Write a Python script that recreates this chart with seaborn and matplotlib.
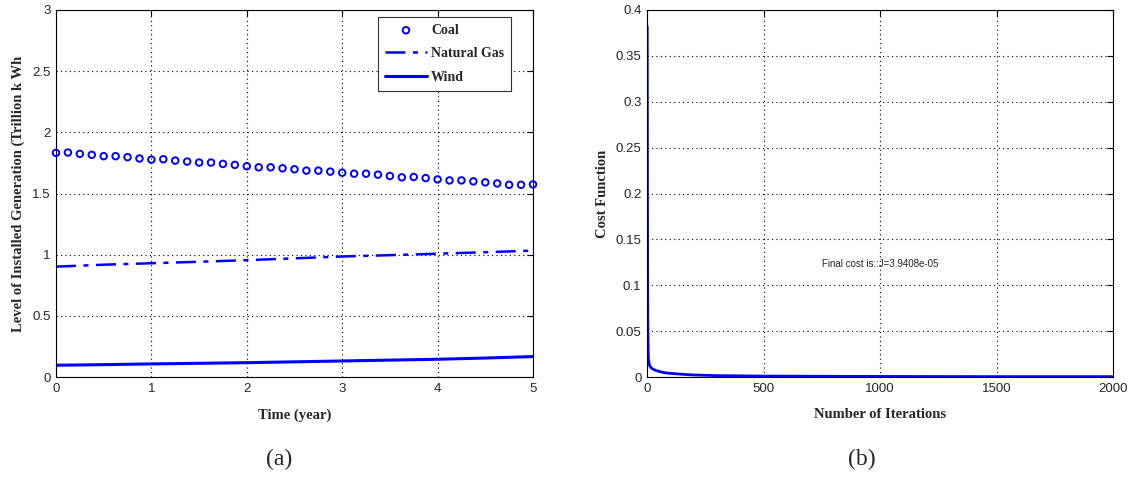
import matplotlib
matplotlib.use("Agg")
import matplotlib.pyplot as plt
import seaborn as sns
import pandas as pd

# (a) installed generation, quarterly over 5 years
coal_time = [i * 0.125 for i in range(41)]
coal = [1.832, 1.835, 1.824, 1.816, 1.805, 1.805, 1.797, 1.786, 1.777, 1.780,
        1.769, 1.761, 1.753, 1.753, 1.742, 1.734, 1.723, 1.714, 1.714, 1.706,
        1.698, 1.687, 1.687, 1.679, 1.670, 1.662, 1.662, 1.654, 1.643, 1.632,
        1.635, 1.626, 1.615, 1.607, 1.607, 1.599, 1.591, 1.582, 1.571, 1.571,
        1.574]

line_time = [0, 0.5, 1, 1.5, 2, 2.5, 3, 3.5, 4, 4.5, 5]
gas = [0.902, 0.918, 0.930, 0.942, 0.955, 0.970, 0.985, 0.996, 1.008, 1.020, 1.033]
wind = [0.096, 0.101, 0.107, 0.112, 0.117, 0.124, 0.131, 0.138, 0.145, 0.155, 0.167]

# (b) cost function over iterations
iterations = [1, 2, 3, 4, 5, 6, 8, 10, 15, 20, 30, 40, 60, 80, 100, 150,
              200, 300, 500, 1000, 1500, 2000]
cost = [0.382, 0.20, 0.085, 0.05, 0.03, 0.02, 0.016, 0.013, 0.011, 0.0095,
        0.008, 0.007, 0.0055, 0.0045, 0.004, 0.003, 0.0022, 0.0015, 0.001,
        0.0006, 0.0004, 0.0004]

sns.set_style("white")
plt.rcParams['font.family'] = ['Liberation Sans', 'DejaVu Sans']

blue = "#0000FF"
label_font = dict(family="Liberation Serif", weight="bold", fontsize=10.5)

fig = plt.figure(figsize=(11.3, 4.87), dpi=100)
ax1 = fig.add_axes([56 / 1130, 110 / 487, 477 / 1130, 367 / 487])
ax2 = fig.add_axes([647 / 1130, 110 / 487, 466 / 1130, 367 / 487])

coal_df = pd.DataFrame({"t": coal_time, "v": coal})
lines_df = pd.DataFrame({"t": line_time, "gas": gas, "wind": wind})
cost_df = pd.DataFrame({"it": iterations, "c": cost})

sns.scatterplot(data=coal_df, x="t", y="v", ax=ax1, marker="o", s=22,
                facecolors="none", edgecolor=blue, linewidth=1.4, label="Coal",
                zorder=3, clip_on=False)
sns.lineplot(data=lines_df, x="t", y="gas", ax=ax1, color=blue, linewidth=1.8,
             linestyle=(0, (8, 3, 2, 3)), label="Natural Gas")
sns.lineplot(data=lines_df, x="t", y="wind", ax=ax1, color=blue, linewidth=2.2,
             label="Wind")

sns.lineplot(data=cost_df, x="it", y="c", ax=ax2, color=blue, linewidth=2.0)

ax1.set_xlim(0, 5)
ax1.set_ylim(0, 3)
ax1.set_xticks([0, 1, 2, 3, 4, 5])
ax1.set_yticks([0, 0.5, 1, 1.5, 2, 2.5, 3])
ax1.set_yticklabels(["0", "0.5", "1", "1.5", "2", "2.5", "3"])

ax2.set_xlim(0, 2000)
ax2.set_ylim(0, 0.4)
ax2.set_xticks([0, 500, 1000, 1500, 2000])
ax2.set_yticks([0, 0.05, 0.1, 0.15, 0.2, 0.25, 0.3, 0.35, 0.4])
ax2.set_yticklabels(["0", "0.05", "0.1", "0.15", "0.2", "0.25", "0.3", "0.35", "0.4"])

for ax in (ax1, ax2):
    ax.grid(True, linestyle=(0, (1, 3)), color="black", linewidth=0.8)
    ax.tick_params(direction="in", top=True, right=True, length=4,
                   labelsize=9.5, color="black", pad=4)
    for sp in ax.spines.values():
        sp.set_color("black")
        sp.set_linewidth(0.8)

ax1.set_xlabel("Time (year)", labelpad=10, **label_font)
ax1.set_ylabel("Level of Installed Generation (Trillion k Wh", labelpad=5, **label_font)
ax2.set_xlabel("Number of Iterations", labelpad=10, **label_font)
ax2.set_ylabel("Cost Function", labelpad=5, **label_font)

ax2.text(750, 0.123, "Final cost is::J=3.9408e-05", fontsize=7, va="center")

leg = ax1.legend(loc="upper right", bbox_to_anchor=(0.954, 0.981),
                 frameon=True, fancybox=False, framealpha=1,
                 edgecolor="#333333", prop=dict(family="Liberation Serif",
                                                weight="bold", size=10),
                 handlelength=3.0, borderaxespad=0, labelspacing=0.75,
                 handletextpad=0.3, borderpad=0.5)
leg.get_frame().set_linewidth(0.8)

fig.text(0.247, 0.045, "(a)", family="Liberation Serif", fontsize=17, ha="center")
fig.text(0.763, 0.045, "(b)", family="Liberation Serif", fontsize=17, ha="center")

plt.savefig("out.png", dpi=100)
